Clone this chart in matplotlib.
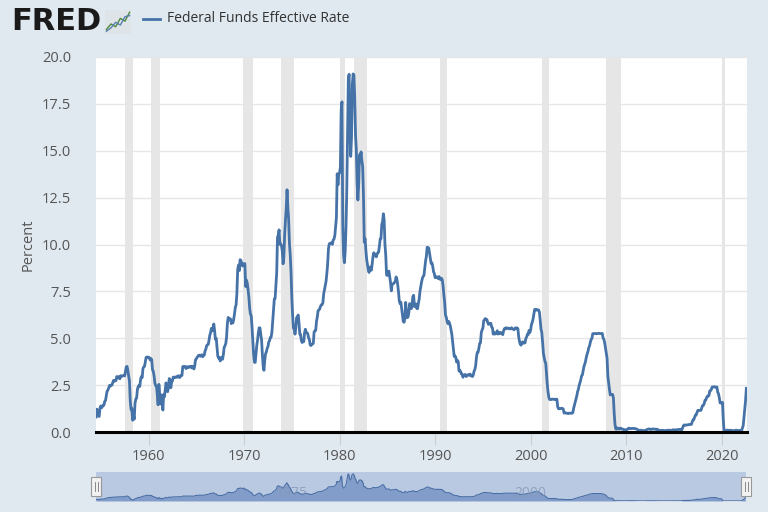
import matplotlib.pyplot as plt
import numpy as np

# Federal Funds Effective Rate, monthly, percent (Jul 1954 - Aug 2022)
start_year = 1954
start_month = 7

rate_1950s = [
    0.80, 1.22, 1.07, 0.85, 0.83, 1.28,
    1.39, 1.29, 1.35, 1.43, 1.43, 1.64, 1.68, 1.96, 2.18, 2.24, 2.35, 2.48,
    2.45, 2.50, 2.50, 2.62, 2.75, 2.71, 2.75, 2.73, 2.95, 2.96, 2.88, 2.94,
    2.84, 3.00, 2.96, 3.00, 3.00, 3.00, 2.99, 3.24, 3.47, 3.50, 3.28, 2.98,
    2.72, 1.67, 1.20, 1.26, 0.63, 0.93, 0.68, 1.53, 1.76, 1.80, 2.27, 2.42,
    2.48, 2.43, 2.80, 2.96, 2.90, 3.39, 3.47, 3.50, 3.76, 3.98, 4.00, 3.99,
]
rate_1960s = [
    3.99, 3.97, 3.84, 3.92, 3.85, 3.32, 3.23, 2.98, 2.60, 2.47, 2.44, 1.98,
    1.45, 2.54, 2.02, 1.49, 1.98, 1.73, 1.17, 2.00, 1.88, 2.26, 2.62, 2.33,
    2.15, 2.37, 2.85, 2.78, 2.36, 2.68, 2.71, 2.93, 2.90, 2.90, 2.94, 2.93,
    2.92, 3.00, 2.98, 2.90, 3.00, 2.99, 3.02, 3.49, 3.48, 3.50, 3.48, 3.38,
    3.48, 3.48, 3.43, 3.47, 3.50, 3.50, 3.42, 3.50, 3.45, 3.36, 3.52, 3.85,
    3.90, 3.98, 4.04, 4.09, 4.10, 4.04, 4.09, 4.12, 4.01, 4.08, 4.10, 4.32,
    4.42, 4.60, 4.65, 4.67, 4.90, 5.17, 5.30, 5.53, 5.40, 5.53, 5.76, 5.40,
    4.94, 5.00, 4.53, 4.05, 3.94, 3.98, 3.79, 3.90, 3.99, 3.88, 4.13, 4.51,
    4.60, 4.71, 5.05, 5.76, 6.11, 6.07, 6.02, 6.03, 5.78, 5.91, 5.82, 6.02,
    6.30, 6.64, 6.79, 7.41, 8.67, 8.90, 8.61, 9.19, 9.15, 9.00, 8.85, 8.97,
]
rate_1970s = [
    8.98, 8.98, 7.76, 8.10, 7.95, 7.61, 7.21, 6.61, 6.29, 6.20, 5.60, 4.90,
    4.14, 3.72, 3.71, 4.15, 4.63, 4.91, 5.31, 5.56, 5.55, 5.20, 4.91, 4.14,
    3.50, 3.29, 3.83, 4.17, 4.27, 4.46, 4.55, 4.80, 4.87, 5.04, 5.06, 5.33,
    5.94, 6.58, 7.09, 7.12, 7.84, 8.49, 10.40, 10.50, 10.78, 10.01, 10.03, 9.95,
    9.65, 8.97, 9.35, 10.51, 11.31, 11.93, 12.92, 12.01, 11.34, 10.06, 9.45, 8.53,
    7.13, 6.24, 5.54, 5.49, 5.22, 5.55, 6.10, 6.14, 6.24, 5.82, 5.22, 5.20,
    4.87, 4.77, 4.84, 4.82, 5.29, 5.48, 5.31, 5.29, 5.25, 5.02, 4.95, 4.65,
    4.61, 4.68, 4.69, 4.73, 5.35, 5.39, 5.42, 5.90, 6.14, 6.47, 6.51, 6.56,
    6.70, 6.78, 6.79, 6.89, 7.36, 7.60, 7.81, 8.04, 8.45, 8.96, 9.76, 10.03,
    10.07, 10.06, 10.09, 10.01, 10.24, 10.29, 10.47, 10.94, 11.43, 13.77, 13.18, 13.78,
]
rate_1980s = [
    13.82, 14.13, 17.19, 17.61, 10.98, 9.47, 9.03, 9.61, 10.87, 12.81, 15.85, 18.90,
    19.08, 15.93, 14.70, 15.72, 18.52, 19.10, 19.04, 17.82, 15.87, 15.08, 13.31, 12.37,
    13.22, 14.78, 14.68, 14.94, 14.45, 14.15, 12.59, 10.12, 10.31, 9.71, 9.20, 8.95,
    8.68, 8.51, 8.77, 8.80, 8.63, 8.98, 9.37, 9.56, 9.45, 9.48, 9.34, 9.47,
    9.56, 9.59, 9.91, 10.29, 10.32, 11.06, 11.23, 11.64, 11.30, 9.99, 9.43, 8.38,
    8.35, 8.50, 8.58, 8.27, 7.97, 7.53, 7.88, 7.90, 7.92, 7.99, 8.05, 8.27,
    8.14, 7.86, 7.48, 6.99, 6.85, 6.92, 6.56, 6.17, 5.89, 5.85, 6.04, 6.91,
    6.43, 6.10, 6.13, 6.37, 6.85, 6.73, 6.58, 6.73, 7.22, 7.29, 6.69, 6.77,
    6.83, 6.58, 6.58, 6.87, 7.09, 7.51, 7.75, 8.01, 8.19, 8.30, 8.35, 8.76,
    9.12, 9.36, 9.85, 9.84, 9.81, 9.53, 9.24, 8.99, 9.02, 8.84, 8.55, 8.45,
]
rate_1990s = [
    8.23, 8.24, 8.28, 8.26, 8.18, 8.29, 8.15, 8.13, 8.20, 8.11, 7.81, 7.31,
    6.91, 6.25, 6.12, 5.91, 5.78, 5.90, 5.82, 5.66, 5.45, 5.21, 4.81, 4.43,
    4.03, 4.06, 3.98, 3.73, 3.82, 3.76, 3.25, 3.30, 3.22, 3.10, 3.09, 2.92,
    3.02, 3.03, 3.07, 2.96, 3.00, 3.04, 3.06, 3.03, 3.09, 2.99, 3.02, 2.96,
    3.05, 3.25, 3.34, 3.56, 4.01, 4.25, 4.26, 4.47, 4.73, 4.76, 5.29, 5.45,
    5.53, 5.92, 5.98, 6.05, 6.01, 6.00, 5.85, 5.74, 5.80, 5.76, 5.80, 5.60,
    5.56, 5.22, 5.31, 5.22, 5.24, 5.27, 5.40, 5.22, 5.30, 5.24, 5.31, 5.29,
    5.25, 5.19, 5.39, 5.51, 5.50, 5.56, 5.52, 5.54, 5.54, 5.50, 5.52, 5.50,
    5.56, 5.51, 5.49, 5.45, 5.49, 5.56, 5.54, 5.55, 5.51, 5.07, 4.83, 4.68,
    4.63, 4.76, 4.81, 4.74, 4.74, 4.76, 4.99, 5.07, 5.22, 5.20, 5.42, 5.30,
]
rate_2000s = [
    5.45, 5.73, 5.85, 6.02, 6.27, 6.53, 6.54, 6.50, 6.52, 6.51, 6.51, 6.40,
    5.98, 5.49, 5.31, 4.80, 4.21, 3.97, 3.77, 3.65, 3.07, 2.49, 2.09, 1.82,
    1.73, 1.74, 1.73, 1.75, 1.75, 1.75, 1.73, 1.74, 1.75, 1.75, 1.34, 1.24,
    1.24, 1.26, 1.25, 1.26, 1.26, 1.22, 1.01, 1.03, 1.01, 1.01, 1.00, 0.98,
    1.00, 1.01, 1.00, 1.00, 1.00, 1.03, 1.26, 1.43, 1.61, 1.76, 1.93, 2.16,
    2.28, 2.50, 2.63, 2.79, 3.00, 3.04, 3.26, 3.50, 3.62, 3.78, 4.00, 4.16,
    4.29, 4.49, 4.59, 4.79, 4.94, 4.99, 5.24, 5.25, 5.25, 5.25, 5.25, 5.24,
    5.25, 5.26, 5.26, 5.25, 5.25, 5.25, 5.26, 5.02, 4.94, 4.76, 4.49, 4.24,
    3.94, 2.98, 2.61, 2.28, 1.98, 2.00, 2.01, 2.00, 1.81, 0.97, 0.39, 0.16,
    0.15, 0.22, 0.18, 0.15, 0.18, 0.21, 0.16, 0.16, 0.15, 0.12, 0.12, 0.12,
]
rate_2010s = [
    0.11, 0.13, 0.16, 0.20, 0.20, 0.18, 0.18, 0.19, 0.19, 0.19, 0.19, 0.18,
    0.17, 0.16, 0.14, 0.10, 0.09, 0.09, 0.07, 0.10, 0.08, 0.07, 0.08, 0.07,
    0.08, 0.10, 0.13, 0.14, 0.16, 0.16, 0.16, 0.13, 0.14, 0.16, 0.16, 0.16,
    0.14, 0.15, 0.14, 0.15, 0.11, 0.09, 0.09, 0.08, 0.08, 0.09, 0.08, 0.09,
    0.07, 0.07, 0.08, 0.09, 0.09, 0.10, 0.09, 0.09, 0.09, 0.09, 0.09, 0.12,
    0.11, 0.11, 0.11, 0.12, 0.12, 0.13, 0.13, 0.14, 0.14, 0.12, 0.12, 0.24,
    0.34, 0.38, 0.36, 0.37, 0.37, 0.38, 0.39, 0.40, 0.40, 0.40, 0.41, 0.54,
    0.65, 0.66, 0.79, 0.90, 0.91, 1.04, 1.15, 1.16, 1.15, 1.15, 1.16, 1.30,
    1.41, 1.42, 1.51, 1.69, 1.70, 1.82, 1.91, 1.91, 1.95, 2.19, 2.20, 2.27,
    2.40, 2.40, 2.41, 2.42, 2.39, 2.38, 2.40, 2.13, 2.04, 1.83, 1.55, 1.55,
]
rate_2020s = [
    1.55, 1.58, 0.65, 0.05, 0.05, 0.08, 0.09, 0.10, 0.09, 0.09, 0.09, 0.09,
    0.09, 0.08, 0.07, 0.07, 0.06, 0.08, 0.10, 0.09, 0.08, 0.08, 0.08, 0.08,
    0.08, 0.08, 0.20, 0.33, 0.77, 1.21, 1.68, 2.33,
]

# NBER recessions (decimal years)
recessions = [
    (1957.58, 1958.33), (1960.25, 1961.17), (1969.92, 1970.92),
    (1973.83, 1975.25), (1980.0, 1980.58), (1981.5, 1982.92),
    (1990.5, 1991.25), (2001.17, 2001.92), (2007.92, 2009.5),
    (2020.08, 2020.33),
]

xticks = [1960, 1970, 1980, 1990, 2000, 2010, 2020]
yticks = [0.0, 2.5, 5.0, 7.5, 10.0, 12.5, 15.0, 17.5, 20.0]
nav_labels = [1975, 2000]

rate = np.array(rate_1950s + rate_1960s + rate_1970s + rate_1980s
                + rate_1990s + rate_2000s + rate_2010s + rate_2020s)
dates = start_year + (start_month - 1) / 12 + np.arange(len(rate)) / 12

plt.rcParams['font.family'] = ['Open Sans', 'DejaVu Sans']

bg = '#e1e9f0'
line_color = '#4572a7'
text_color = '#555555'

fig = plt.figure(figsize=(7.68, 5.12), dpi=100, facecolor=bg)

# main chart
ax = fig.add_axes([96 / 768, 80 / 512, 651 / 768, 375 / 512])
ax.set_facecolor('white')
for s, e in recessions:
    ax.axvspan(s, e, color='#e6e6e6', lw=0, zorder=0)
ax.plot(dates, rate, color=line_color, lw=2, zorder=3, solid_joinstyle='round')
ax.set_xlim(1954.5, 2022.65)
ax.set_ylim(0, 20)
ax.set_yticks(yticks)
ax.set_yticklabels(['%.1f' % v for v in yticks])
ax.set_xticks(xticks)
ax.grid(axis='y', color='#e6e6e6', lw=1, zorder=1)
for side in ['top', 'right', 'left']:
    ax.spines[side].set_visible(False)
ax.spines['bottom'].set_color('black')
ax.spines['bottom'].set_linewidth(2.2)
ax.spines['bottom'].set_zorder(4)
ax.tick_params(axis='y', length=0, pad=18, labelsize=10.5, labelcolor=text_color)
ax.tick_params(axis='x', length=9, width=0.8, color='#cccccc', pad=3,
               labelsize=10.5, labelcolor=text_color)
ax.set_ylabel('Percent', fontsize=10.5, color=text_color)
ax.yaxis.set_label_coords((36 - 96) / 651, 0.5)

# navigator
nav = fig.add_axes([96 / 768, 11 / 512, 650 / 768, 29 / 512])
nav.set_facecolor('#b9c9e2')
nav.fill_between(dates, rate, 0, color='#7d99c9', alpha=0.9, lw=0, zorder=2)
nav.plot(dates, rate, color='#4a6fa5', lw=0.8, zorder=3)
for yr in nav_labels:
    nav.text(yr, 5.5, str(yr), ha='center', va='center', fontsize=10,
             color='#8798b8', alpha=0.8, zorder=4)
nav.set_xlim(1954.5, 2022.65)
nav.set_ylim(0, 20.5)
nav.set_xticks([])
nav.set_yticks([])
for s in nav.spines.values():
    s.set_visible(False)
for hx in [96, 746]:
    fig.patches.append(plt.Rectangle(((hx - 5) / 768, 16 / 512), 10 / 768, 19 / 512,
                                     transform=fig.transFigure, facecolor='#f2f2f2',
                                     edgecolor='#999999', lw=0.8, zorder=5))
    for dx in (-1.5, 1.5):
        fig.add_artist(plt.Line2D([(hx + dx) / 768] * 2, [21 / 512, 30 / 512],
                                  color='#888888', lw=0.7, zorder=6))

# header: FRED logo and legend
fig.text(11 / 768, 1 - 22 / 512, 'FRED', fontsize=22, fontweight='heavy',
         color='#1a1a1a', va='center', ha='left', family='DejaVu Sans')
icon = fig.add_axes([105 / 768, 1 - 34 / 512, 26 / 768, 24 / 512])
icon.set_facecolor('#dfe4e8')
icon.plot([0, 1, 2, 3, 4, 5], [0.5, 1.5, 1.0, 2.5, 2.0, 3.6], color='#4d8a3c', lw=1)
icon.plot([0, 1, 2, 3, 4, 5], [0.2, 0.8, 1.8, 1.3, 2.8, 3.0], color='#5a7fb0', lw=1)
icon.set_xlim(-0.3, 5.3)
icon.set_ylim(-0.3, 4)
icon.set_xticks([])
icon.set_yticks([])
for s in icon.spines.values():
    s.set_visible(False)

fig.add_artist(plt.Line2D([143 / 768, 160 / 768], [1 - 19 / 512] * 2,
                          color=line_color, lw=2))
fig.text(167 / 768, 1 - 19 / 512, 'Federal Funds Effective Rate', fontsize=10,
         color='#333333', va='center', ha='left')

fig.savefig('out.png', dpi=100, facecolor=bg)
